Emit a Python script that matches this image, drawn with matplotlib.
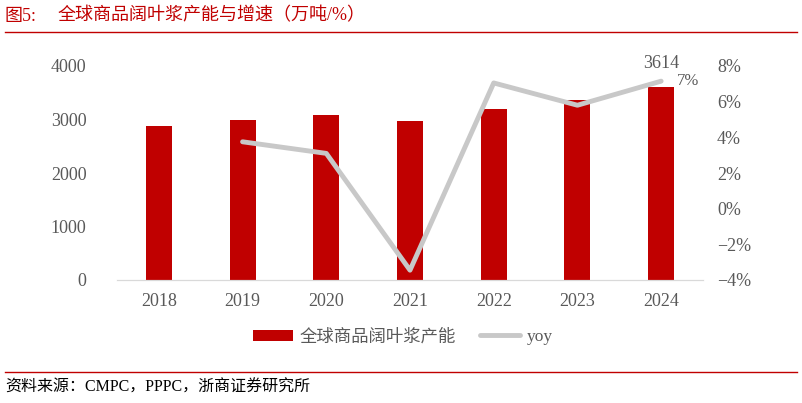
import matplotlib.pyplot as plt
import numpy as np
from matplotlib.ticker import FuncFormatter

plt.rcParams['font.family'] = ['Liberation Serif', 'Noto Sans CJK SC']

years = ['2018', '2019', '2020', '2021', '2022', '2023', '2024']
capacity = [2880, 2990, 3085, 2975, 3195, 3365, 3614]
yoy = [np.nan, 3.75, 3.1, -3.45, 7.05, 5.8, 7.15]

red = '#C00000'
grey = '#595959'

fig = plt.figure(figsize=(8.02, 4.03), dpi=100)
ax1 = fig.add_axes([117 / 802, 1 - 280 / 403, 586 / 802, 214 / 403])
ax2 = ax1.twinx()

x = np.arange(len(years))
b1 = ax1.bar(x, capacity, width=0.31, color=red, label='全球商品阔叶浆产能')
l1, = ax2.plot(x, yoy, color='#C8C8C8', lw=3.5, solid_capstyle='round', label='yoy')

ax1.set_xlim(-0.5, 6.5)
ax1.set_ylim(0, 4000)
ax1.set_yticks([0, 1000, 2000, 3000, 4000])
ax2.set_ylim(-4, 8)
ax2.set_yticks(range(-4, 9, 2))
ax2.yaxis.set_major_formatter(FuncFormatter(lambda v, p: ('−' if v < 0 else '') + '%d%%' % abs(v)))

ax1.set_xticks(x)
ax1.set_xticklabels(years)
for ax in (ax1, ax2):
    for s in ['top', 'left', 'right']:
        ax.spines[s].set_visible(False)
    ax.spines['bottom'].set_color('#D9D9D9')
    ax.tick_params(length=0, colors=grey, labelsize=13)
ax1.tick_params(axis='y', pad=22)
ax1.tick_params(axis='x', pad=9)
ax2.tick_params(axis='y', pad=10)

ax1.text(x[-1], capacity[-1] + 270, '%d' % capacity[-1], ha='center', va='bottom',
         color=grey, fontsize=13)
ax2.text(x[-1] + 0.32, yoy[-1], '%d%%' % round(yoy[-1]), ha='center', va='center',
         color=grey, fontsize=12)

fig.legend(handles=[b1, l1], loc='center', bbox_to_anchor=(403 / 802, 1 - 337 / 403),
           ncol=2, frameon=False, fontsize=12.5, labelcolor=grey, handlelength=2.3,
           handleheight=0.6, columnspacing=1.4, handletextpad=0.4)

fig.text(5 / 802, 1 - 16 / 403, '图5:', color=red, fontsize=13, va='center', ha='left')
fig.text(58 / 802, 1 - 16 / 403, '全球商品阔叶浆产能与增速（万吨/%）', color=red,
         fontsize=13, va='center', ha='left')
fig.add_artist(plt.Line2D([5 / 802, 797 / 802], [1 - 32 / 403, 1 - 32 / 403], color=red, lw=1))
fig.add_artist(plt.Line2D([5 / 802, 797 / 802], [1 - 372 / 403, 1 - 372 / 403], color=red, lw=1))
fig.text(5 / 802, 1 - 388 / 403, '资料来源：CMPC，PPPC，浙商证券研究所', color='black',
         fontsize=11.5, va='center', ha='left')

plt.savefig('out.png', dpi=100)
